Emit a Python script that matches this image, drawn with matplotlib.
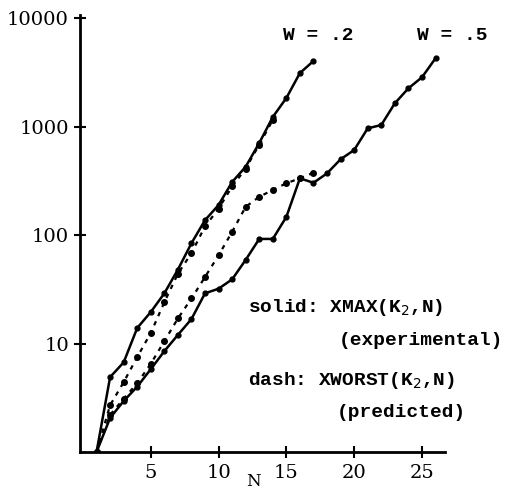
import matplotlib
matplotlib.use("Agg")
import matplotlib.pyplot as plt
import numpy as np

n_w2 = [1, 2, 3, 4, 5, 6, 7, 8, 9, 10, 11, 12, 13, 14, 15, 16, 17]
solid_w2 = [1, 4.9, 6.7, 13.9, 19.5, 29, 48, 84, 137, 189, 308, 426, 705, 1224, 1832, 3110, 4015]

n_w5 = [1, 2, 3, 4, 5, 6, 7, 8, 9, 10, 11, 12, 13, 14, 15, 16, 17, 18, 19, 20,
        21, 22, 23, 24, 25, 26]
solid_w5 = [1, 2.06, 2.95, 4.0, 5.8, 8.5, 12, 16.8, 29, 32, 39, 59, 92, 92, 147, 333,
            303, 370, 499, 607, 962, 1032, 1636, 2249, 2840, 4253]

n_dash_w2 = [1, 2, 3, 4, 5, 6, 7, 8, 9, 10, 11, 12, 13, 14]
dash_w2 = [1, 2.7, 4.4, 7.5, 12.5, 24, 44, 68, 120, 175, 280, 410, 680, 1150]

n_dash_w5 = [1, 2, 3, 4, 5, 6, 7, 8, 9, 10, 11, 12, 13, 14, 15, 16, 17]
dash_w5 = [1, 2.2, 3.1, 4.3, 6.5, 10.5, 17, 26, 41, 65, 107, 182, 225, 260, 300, 333, 375]

W, H = 506, 493
fig = plt.figure(figsize=(W / 100, H / 100), dpi=100)

def fx(px):
    return px / W

def fy(py):
    return 1 - py / H

ax = fig.add_axes([fx(80), fy(452), fx(445) - fx(80), fy(15) - fy(452)])

solid_kw = dict(color="black", lw=1.8, marker="o", ms=3.5)
dash_kw = dict(color="black", lw=1.6, ls=(0, (2, 2.5)), marker="o", ms=4)

ax.plot(n_w2, solid_w2, **solid_kw)
ax.plot(n_w5, solid_w5, **solid_kw)
ax.plot(n_dash_w2, dash_w2, **dash_kw)
ax.plot(n_dash_w5, dash_w5, **dash_kw)

ax.set_yscale("log")
ax.set_ylim(1, 10660)
ax.set_xlim(-0.22, 26.7)

ax.set_yticks([10, 100, 1000, 10000], labels=["10", "100", "1000", "10000"])
ax.yaxis.set_minor_locator(matplotlib.ticker.NullLocator())
ax.set_xticks([5, 10, 15, 20, 25])

for s in ["top", "right"]:
    ax.spines[s].set_visible(False)
for s in ["left", "bottom"]:
    ax.spines[s].set_linewidth(2)

ax.tick_params(direction="inout", length=8, width=1.5)
ax.tick_params(axis="y", pad=4)
ax.tick_params(axis="x", pad=5)
for lab in ax.get_xticklabels() + ax.get_yticklabels():
    lab.set_family("DejaVu Serif")
    lab.set_fontsize(14)

fig.text(fx(253), fy(482), "N", family="DejaVu Serif", fontsize=12,
         ha="center", va="center")

mono = dict(family="Liberation Mono", weight="bold", fontsize=14, color="black")
fig.text(fx(318), fy(35), "W = .2", ha="center", va="center", **mono)
fig.text(fx(452), fy(35), "W = .5", ha="center", va="center", **mono)

fig.text(fx(248), fy(312), r"solid: XMAX(K$_2$,N)", ha="left", va="baseline", **mono)
fig.text(fx(503), fy(345), "(experimental)", ha="right", va="baseline", **mono)
fig.text(fx(248), fy(385), r"dash: XWORST(K$_2$,N)", ha="left", va="baseline", **mono)
fig.text(fx(337), fy(417), "(predicted)", ha="left", va="baseline", **mono)

fig.savefig("out.png", dpi=100)
